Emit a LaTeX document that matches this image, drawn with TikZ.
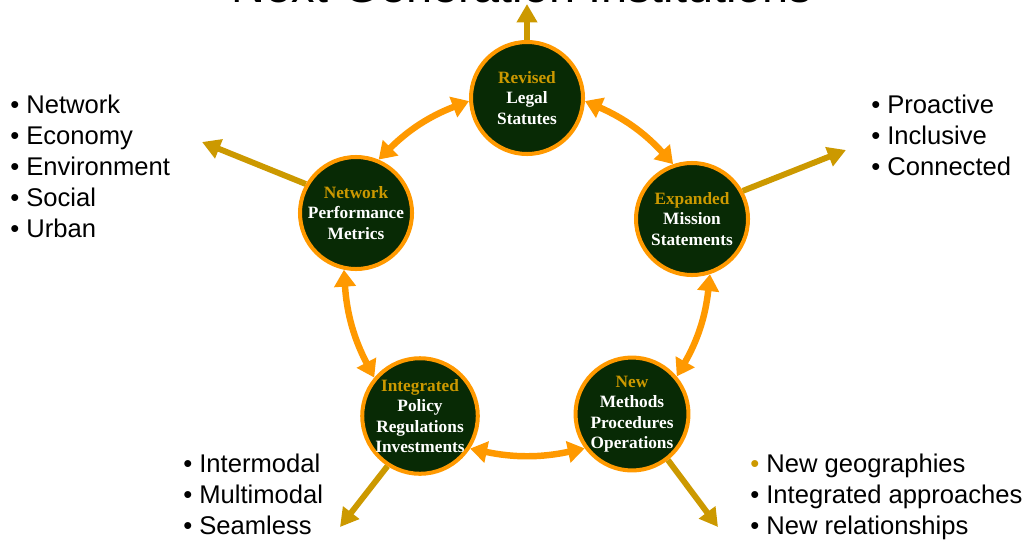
\documentclass[tikz,border=0pt]{standalone}
\usepackage{fontspec}
\setmainfont{Liberation Sans}
\newfontfamily\serifb{Liberation Serif}
\usetikzlibrary{arrows.meta}
\definecolor{ringor}{RGB}{255,153,0}
\definecolor{goldc}{RGB}{204,153,0}
\definecolor{dgreen}{RGB}{8,42,5}
\tikzset{
 inst/.style={circle, draw=ringor, line width=2.85pt, fill=dgreen, minimum size=2.8cm, inner sep=0pt, align=center, text=white, font=\serifb\bfseries\fontsize{12.3}{14.6}\selectfont},
 link/.style={draw=ringor, line width=4.6pt, {Triangle[length=12pt,width=15pt]}-{Triangle[length=12pt,width=15pt]}},
 outarr/.style={draw=goldc, line width=4.2pt, -{Triangle[length=13pt,width=14pt]}},
 item/.style={anchor=base west, inner sep=0pt, font=\fontsize{18.2}{22}\selectfont},
}
\begin{document}
\begin{tikzpicture}[x=0.025cm,y=-0.025cm]
\useasboundingbox (0,0) rectangle (1029,540);
\clip (0,0) rectangle (1029,540);
\node[anchor=base, inner sep=0pt, font=\fontsize{33.3}{40}\selectfont] (title) at (522,2) {Next-Generation Institutions};

\coordinate (tRev) at (527,4);
\coordinate (tNet) at (202,142);
\coordinate (tExp) at (846,150);
\coordinate (tInt) at (340,527);
\coordinate (tNew) at (718,527);

\node[inst] (rev) at (527,98) {\textcolor{goldc}{Revised}\\Legal\\Statutes};
\node[inst] (exp) at (692,219) {\textcolor{goldc}{Expanded}\\Mission\\Statements};
\node[inst] (net) at (356,213) {\textcolor{goldc}{Network}\\Performance\\Metrics};
\node[inst] (int) at (420,416) {\textcolor{goldc}{Integrated}\\Policy\\Regulations\\Investments};
\node[inst] (new) at (632,414) {\textcolor{goldc}{New}\\Methods\\Procedures\\Operations};

\draw[outarr] (rev.north) -- (tRev);
\draw[outarr] (net.150) -- (tNet);
\draw[outarr] (exp.29) -- (tExp);
\draw[outarr] (int.237) -- (tInt);
\draw[outarr] (new.-52) -- (tNew);

\draw[link] (rev.-3) to[bend left=12] (exp.109);
\draw[link] (rev.183) to[bend right=12] (net.67);
\draw[link] (net.258) to[bend right=12] (int.140);
\draw[link] (exp.-72) to[bend left=12] (new.40);
\draw[link] (int.-33) to[bend right=12] (new.216);

\node[item] (l1) at (10,113) {• Network};
\node[item] (l2) at (10,144) {• Economy};
\node[item] (l3) at (10,175) {• Environment};
\node[item] (l4) at (10,206) {• Social};
\node[item] (l5) at (10,237) {• Urban};

\node[item] (r1) at (871,113) {• Proactive};
\node[item] (r2) at (871,144) {• Inclusive};
\node[item] (r3) at (871,175) {• Connected};

\node[item] (b1) at (183,472) {• Intermodal};
\node[item] (b2) at (183,503) {• Multimodal};
\node[item] (b3) at (183,534) {• Seamless};

\node[item] (c1) at (750,472) {\textcolor{goldc}{•} New geographies};
\node[item] (c2) at (750,503) {• Integrated approaches};
\node[item] (c3) at (750,534) {• New relationships};
\end{tikzpicture}
\end{document}
